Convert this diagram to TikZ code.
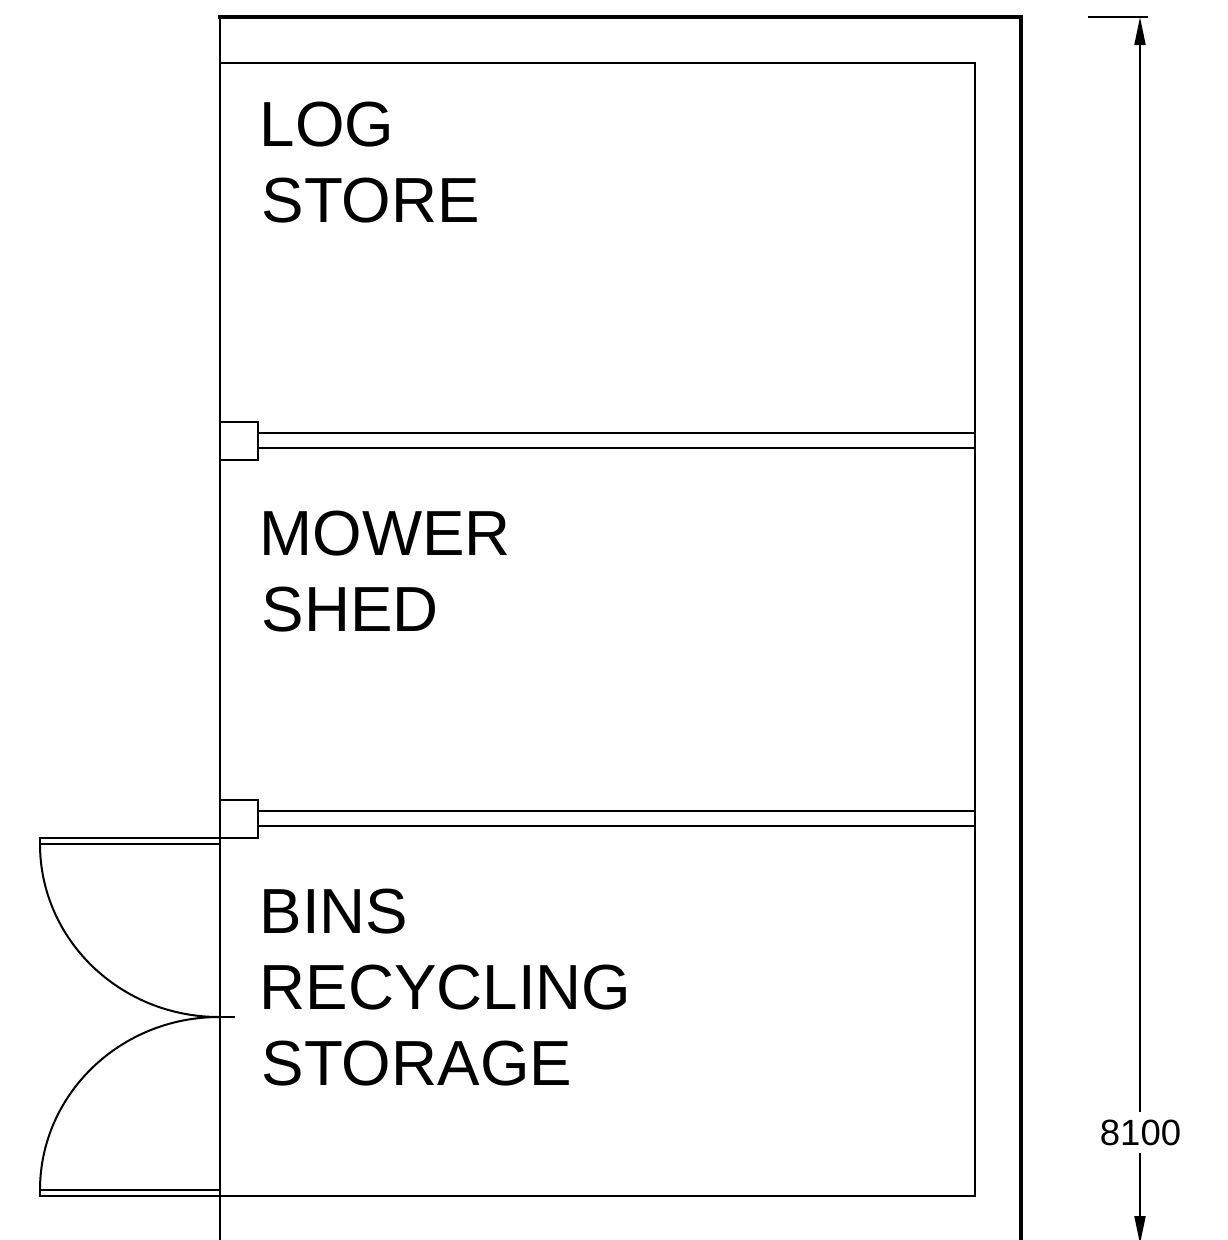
\documentclass[tikz,border=0pt]{standalone}
\usepackage{fontspec}
\setmainfont{Liberation Sans}
\usetikzlibrary{arrows.meta}
\tikzstyle{wall}=[line width=3.6pt, line cap=rect]
\tikzstyle{thinline}=[line width=2pt]
\tikzstyle{roomlabel}=[anchor=base west, inner sep=0pt, font=\fontsize{63.7}{64}\selectfont]
\tikzset{>={Triangle[length=28pt, width=11pt]}}

\begin{document}
\begin{tikzpicture}[x=1pt, y=-1pt]
\useasboundingbox (0,0) rectangle (1228,1240);
\clip (0,0) rectangle (1228,1240);

% outer wall
\draw[thinline] (220,17) -- (220,1240);
\draw[wall] (220,17) -- (1021,17) -- (1021,1240);

% inner room
\draw[thinline] (220,63) rectangle (975,1196);

% partitions
\foreach \y in {422, 800} {
	\draw[thinline] (220,\y) rectangle (258,\y+38);
	\draw[thinline] (258,\y+11) -- (975,\y+11);
	\draw[thinline] (258,\y+26) -- (975,\y+26);
}

% doors
\draw[thinline] (40,838) rectangle (220,844);
\draw[thinline] (40,1190) rectangle (220,1196);
\draw[thinline] (40,844) arc [start angle=180, end angle=270, x radius=179, y radius=-173];
\draw[thinline] (40,1190) arc [start angle=180, end angle=90, x radius=179, y radius=-173];
\draw[thinline] (200,1017) -- (235,1017);

% labels
\node[roomlabel] (logA) at (259.5,146) {LOG};
\node[roomlabel] (logB) at (261.5,222) {STORE};
\node[roomlabel] (mowerA) at (259.5,555) {MOWER};
\node[roomlabel] (mowerB) at (261.5,631) {SHED};
\node[roomlabel] (binsA) at (259.5,933) {BINS};
\node[roomlabel] (binsB) at (259.5,1009) {RECYCLING};
\node[roomlabel] (binsC) at (261.5,1085) {STORAGE};

% dimension
\draw[thinline] (1088,17) -- (1148,17);
\node[inner sep=0pt, font=\fontsize{36.5}{36.5}\selectfont] (dim) at (1140.5,1133) {8100};
\draw[thinline, ->] (1140,1112) -- (1140,17);
\draw[thinline, ->] (1140,1153) -- (1140,1244);

\end{tikzpicture}
\end{document}
